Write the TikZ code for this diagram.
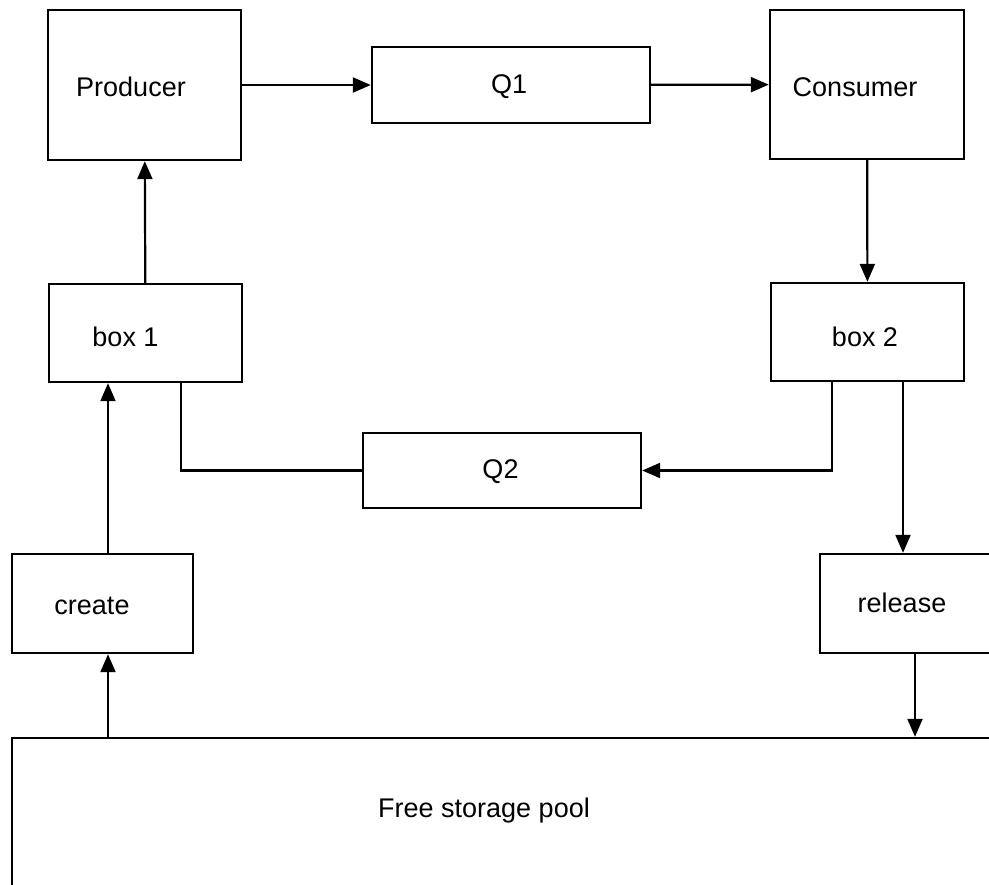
\documentclass[tikz,border=0pt]{standalone}
\usepackage{fontspec}
\setmainfont{Liberation Sans}
\usetikzlibrary{arrows.meta,positioning,calc}
\tikzset{blk/.style={draw,line width=1.2pt,inner sep=0pt},
  txt/.style={inner sep=0pt,font=\fontsize{13.5}{16}\selectfont},
  wire/.style={line width=1.1pt},
  arr/.style={wire,-{Triangle[length=9pt,width=7.5pt]}}}
\begin{document}
\begin{tikzpicture}[x=0.5pt,y=-0.5pt]
\useasboundingbox (0,0) rectangle (989,884);
\clip (0,0) rectangle (989,884);
% boxes
\node[blk,minimum width=96.5pt,minimum height=75pt] (prod) at (144.5,85) {};
\node[blk,minimum width=139pt,minimum height=38pt] (q1) at (511,85) {};
\node[blk,minimum width=97pt,minimum height=74.5pt] (cons) at (867,84.5) {};
\node[blk,minimum width=96.5pt,minimum height=49pt] (box1) at (145.5,333) {};
\node[blk,minimum width=96.5pt,minimum height=49pt] (box2) at (867.5,332) {};
\node[blk,minimum width=139pt,minimum height=37.5pt] (q2) at (502,470.5) {};
\node[blk,minimum width=90.5pt,minimum height=49.5pt] (create) at (102.5,603.5) {};
\node[blk,minimum width=90pt,minimum height=49.5pt] (rel) at (910,603.5) {};
\node[blk,minimum width=494pt,minimum height=81pt] (pool) at (506,819) {};
% labels
\node[txt] (prodt) at (131,87) {Producer};
\node[txt] (q1t) at (509,87) {Q1};
\node[txt] (const) at (855,87) {Consumer};
\node[txt] (box1t) at (125.5,337) {box 1};
\node[txt] (box2t) at (865,337) {box 2};
\node[txt] (q2t) at (500.5,472) {Q2};
\node[txt] (createt) at (92,606) {create};
\node[txt] (relt) at (902,603) {release};
\node[txt] (poolt) at (484,811) {Free storage pool};
% connectors
\draw[arr] (prod) -- (q1);
\draw[arr] (q1) -- (cons);
\draw[arr] (cons) -- (box2);
\draw[arr] (box1) -- (prod);
\draw[wire] ([xshift=17.75pt]box1.south) |- (q2.west);
\draw[arr] ([xshift=-17.75pt]box2.south) |- (q2.east);
\draw[arr] ([xshift=17.75pt]box2.south) -- ([xshift=17.75pt]box2.south |- rel.north);
\draw[arr] ([xshift=2.5pt]rel.south) -- ([xshift=2.5pt]rel.south |- pool.north);
\coordinate (up) at ([xshift=2.75pt]create.north);
\draw[arr] (up) -- (up |- box1.south);
\draw[arr] (up |- pool.north) -- ([xshift=2.75pt]create.south);
\end{tikzpicture}
\end{document}
